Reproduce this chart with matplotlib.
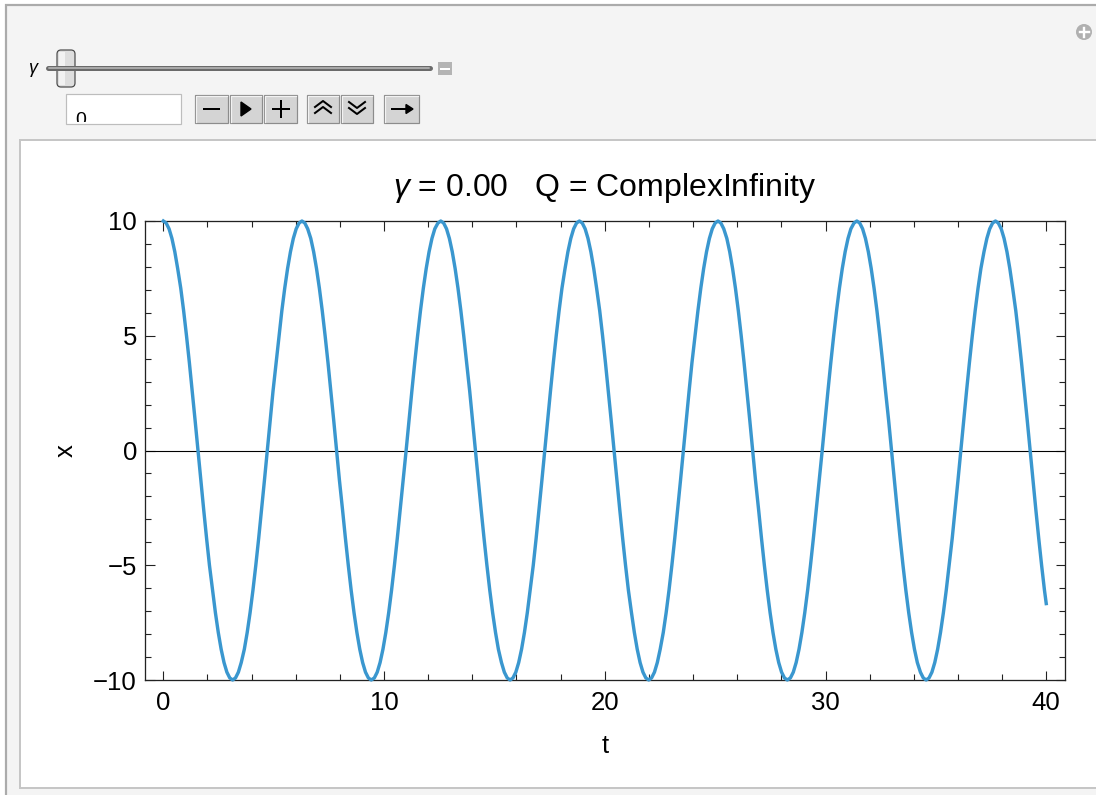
import matplotlib

matplotlib.use("Agg")
import matplotlib.pyplot as plt
from matplotlib.patches import Rectangle, FancyBboxPatch, Circle, Polygon
from matplotlib.ticker import MultipleLocator

plt.rcParams["font.family"] = ["Liberation Sans", "DejaVu Sans"]
plt.rcParams["mathtext.fontset"] = "custom"
plt.rcParams["mathtext.it"] = "Liberation Sans:italic"
plt.rcParams["mathtext.rm"] = "Liberation Sans"

# ---- data (gamma = 0, undamped oscillation) ----
GAMMA = 0.0
Q_TEXT = "ComplexInfinity"
T = [0.00, 0.13, 0.26, 0.39, 0.52, 0.65, 0.79, 0.92, 1.05, 1.18, 1.31, 1.44,
     1.57, 1.70, 1.83, 1.96, 2.09, 2.23, 2.36, 2.49, 2.62, 2.75, 2.88, 3.01,
     3.14, 3.27, 3.40, 3.53, 3.67, 3.80, 3.93, 4.06, 4.19, 4.32, 4.45, 4.58,
     4.71, 4.84, 4.97, 5.11, 5.24, 5.37, 5.50, 5.63, 5.76, 5.89, 6.02, 6.15,
     6.28, 6.41, 6.54, 6.68, 6.81, 6.94, 7.07, 7.20, 7.33, 7.46, 7.59, 7.72,
     7.85, 7.98, 8.12, 8.25, 8.38, 8.51, 8.64, 8.77, 8.90, 9.03, 9.16, 9.29,
     9.42, 9.56, 9.69, 9.82, 9.95, 10.08, 10.21, 10.34, 10.47, 10.60, 10.73, 10.86,
     11.00, 11.13, 11.26, 11.39, 11.52, 11.65, 11.78, 11.91, 12.04, 12.17, 12.30, 12.44,
     12.57, 12.70, 12.83, 12.96, 13.09, 13.22, 13.35, 13.48, 13.61, 13.74, 13.88, 14.01,
     14.14, 14.27, 14.40, 14.53, 14.66, 14.79, 14.92, 15.05, 15.18, 15.32, 15.45, 15.58,
     15.71, 15.84, 15.97, 16.10, 16.23, 16.36, 16.49, 16.62, 16.76, 16.89, 17.02, 17.15,
     17.28, 17.41, 17.54, 17.67, 17.80, 17.93, 18.06, 18.20, 18.33, 18.46, 18.59, 18.72,
     18.85, 18.98, 19.11, 19.24, 19.37, 19.50, 19.63, 19.77, 19.90, 20.03, 20.16, 20.29,
     20.42, 20.55, 20.68, 20.81, 20.94, 21.07, 21.21, 21.34, 21.47, 21.60, 21.73, 21.86,
     21.99, 22.12, 22.25, 22.38, 22.51, 22.65, 22.78, 22.91, 23.04, 23.17, 23.30, 23.43,
     23.56, 23.69, 23.82, 23.95, 24.09, 24.22, 24.35, 24.48, 24.61, 24.74, 24.87, 25.00,
     25.13, 25.26, 25.39, 25.53, 25.66, 25.79, 25.92, 26.05, 26.18, 26.31, 26.44, 26.57,
     26.70, 26.83, 26.97, 27.10, 27.23, 27.36, 27.49, 27.62, 27.75, 27.88, 28.01, 28.14,
     28.27, 28.41, 28.54, 28.67, 28.80, 28.93, 29.06, 29.19, 29.32, 29.45, 29.58, 29.71,
     29.85, 29.98, 30.11, 30.24, 30.37, 30.50, 30.63, 30.76, 30.89, 31.02, 31.15, 31.29,
     31.42, 31.55, 31.68, 31.81, 31.94, 32.07, 32.20, 32.33, 32.46, 32.59, 32.72, 32.86,
     32.99, 33.12, 33.25, 33.38, 33.51, 33.64, 33.77, 33.90, 34.03, 34.16, 34.30, 34.43,
     34.56, 34.69, 34.82, 34.95, 35.08, 35.21, 35.34, 35.47, 35.60, 35.74, 35.87, 36.00,
     36.13, 36.26, 36.39, 36.52, 36.65, 36.78, 36.91, 37.04, 37.18, 37.31, 37.44, 37.57,
     37.70, 37.83, 37.96, 38.09, 38.22, 38.35, 38.48, 38.62, 38.75, 38.88, 39.01, 39.14,
     39.27, 39.40, 39.53, 39.66, 39.79, 39.92, 40.00]
X = [10.0, 9.91, 9.66, 9.24, 8.66, 7.93, 7.07, 6.09, 5.0, 3.83, 2.59, 1.31,
     0.0, -1.31, -2.59, -3.83, -5.0, -6.09, -7.07, -7.93, -8.66, -9.24, -9.66, -9.91,
     -10.0, -9.91, -9.66, -9.24, -8.66, -7.93, -7.07, -6.09, -5.0, -3.83, -2.59, -1.31,
     0.0, 1.31, 2.59, 3.83, 5.0, 6.09, 7.07, 7.93, 8.66, 9.24, 9.66, 9.91,
     10.0, 9.91, 9.66, 9.24, 8.66, 7.93, 7.07, 6.09, 5.0, 3.83, 2.59, 1.31,
     0.0, -1.31, -2.59, -3.83, -5.0, -6.09, -7.07, -7.93, -8.66, -9.24, -9.66, -9.91,
     -10.0, -9.91, -9.66, -9.24, -8.66, -7.93, -7.07, -6.09, -5.0, -3.83, -2.59, -1.31,
     0.0, 1.31, 2.59, 3.83, 5.0, 6.09, 7.07, 7.93, 8.66, 9.24, 9.66, 9.91,
     10.0, 9.91, 9.66, 9.24, 8.66, 7.93, 7.07, 6.09, 5.0, 3.83, 2.59, 1.31,
     0.0, -1.31, -2.59, -3.83, -5.0, -6.09, -7.07, -7.93, -8.66, -9.24, -9.66, -9.91,
     -10.0, -9.91, -9.66, -9.24, -8.66, -7.93, -7.07, -6.09, -5.0, -3.83, -2.59, -1.31,
     0.0, 1.31, 2.59, 3.83, 5.0, 6.09, 7.07, 7.93, 8.66, 9.24, 9.66, 9.91,
     10.0, 9.91, 9.66, 9.24, 8.66, 7.93, 7.07, 6.09, 5.0, 3.83, 2.59, 1.31,
     0.0, -1.31, -2.59, -3.83, -5.0, -6.09, -7.07, -7.93, -8.66, -9.24, -9.66, -9.91,
     -10.0, -9.91, -9.66, -9.24, -8.66, -7.93, -7.07, -6.09, -5.0, -3.83, -2.59, -1.31,
     0.0, 1.31, 2.59, 3.83, 5.0, 6.09, 7.07, 7.93, 8.66, 9.24, 9.66, 9.91,
     10.0, 9.91, 9.66, 9.24, 8.66, 7.93, 7.07, 6.09, 5.0, 3.83, 2.59, 1.31,
     0.0, -1.31, -2.59, -3.83, -5.0, -6.09, -7.07, -7.93, -8.66, -9.24, -9.66, -9.91,
     -10.0, -9.91, -9.66, -9.24, -8.66, -7.93, -7.07, -6.09, -5.0, -3.83, -2.59, -1.31,
     0.0, 1.31, 2.59, 3.83, 5.0, 6.09, 7.07, 7.93, 8.66, 9.24, 9.66, 9.91,
     10.0, 9.91, 9.66, 9.24, 8.66, 7.93, 7.07, 6.09, 5.0, 3.83, 2.59, 1.31,
     0.0, -1.31, -2.59, -3.83, -5.0, -6.09, -7.07, -7.93, -8.66, -9.24, -9.66, -9.91,
     -10.0, -9.91, -9.66, -9.24, -8.66, -7.93, -7.07, -6.09, -5.0, -3.83, -2.59, -1.31,
     0.0, 1.31, 2.59, 3.83, 5.0, 6.09, 7.07, 7.93, 8.66, 9.24, 9.66, 9.91,
     10.0, 9.91, 9.66, 9.24, 8.66, 7.93, 7.07, 6.09, 5.0, 3.83, 2.59, 1.31,
     0.0, -1.31, -2.59, -3.83, -5.0, -6.09, -6.67]
X_TICKS = [0, 10, 20, 30, 40]
Y_TICKS = [-10, -5, 0, 5, 10]

BLUE = "#3a97cf"
W, H = 1096, 795
PX = 0.72  # points per pixel at dpi 100

fig = plt.figure(figsize=(W / 100, H / 100), dpi=100, facecolor="white")

# ---- Manipulate chrome, drawn in pixel coordinates ----
bg = fig.add_axes([0, 0, 1, 1], zorder=0)
bg.set_xlim(0, W)
bg.set_ylim(H, 0)
bg.axis("off")
bg.add_patch(Rectangle((6, 5), W, H, facecolor="#f4f4f4", edgecolor="#ababab", lw=2.2 * PX))
bg.add_patch(Rectangle((20, 140), W, 648, facecolor="white", edgecolor="#c6c6c6", lw=2 * PX))

# slider
bg.text(34, 70, r"$\gamma$", fontsize=13, ha="center", va="center")
bg.plot([48, 430], [68, 68], color="#6a6a6a", lw=5 * PX, solid_capstyle="round")
bg.plot([49, 429], [68, 68], color="#a8a8a8", lw=2 * PX, solid_capstyle="round")
bg.add_patch(FancyBboxPatch((57, 50), 18, 37, boxstyle="round,pad=0,rounding_size=4",
                            facecolor="#dedede", edgecolor="#4a4a4a", lw=1.2 * PX))
bg.add_patch(Rectangle((58.5, 52), 6, 33, facecolor="#f2f2f2", edgecolor="none"))
bg.add_patch(Rectangle((438, 62), 14, 13, facecolor="#b4b4b4", edgecolor="none"))
bg.plot([441, 449], [68.5, 68.5], color="white", lw=2 * PX)

# input field with clipped "0"
bg.add_patch(Rectangle((66, 94), 115, 30, facecolor="white", edgecolor="#bdbdbd", lw=1.2 * PX))
inner = Rectangle((67, 95), 113, 27, facecolor="none", edgecolor="none")
bg.add_patch(inner)
zero = bg.text(81, 125, "0", fontsize=14, ha="center", va="baseline")
zero.set_clip_on(True)
zero.set_clip_path(inner)

# buttons
for x0, x1 in [(195, 228), (230, 262), (264, 297), (307, 339), (341, 373), (384, 419)]:
    bg.add_patch(Rectangle((x0, 95), x1 - x0, 28, facecolor="#d4d4d4", edgecolor="#8c8c8c", lw=1.2 * PX))
    bg.plot([x0 + 1, x0 + 1, x1 - 1], [122, 96, 96], color="#f2f2f2", lw=1.2 * PX)
ink = dict(color="black", lw=2 * PX)
bg.plot([204, 219], [109, 109], **ink)
bg.add_patch(Polygon([[241, 102], [241, 116], [251, 109]], closed=True, color="black"))
bg.plot([273, 289], [109, 109], **ink)
bg.plot([281, 281], [101, 117], **ink)
for dy in (0, 6):
    bg.plot([315, 323, 331], [107 + dy, 101 + dy, 107 + dy], **ink)
    bg.plot([349, 357, 365], [102 + dy, 108 + dy, 102 + dy], **ink)
bg.plot([392, 409], [109, 109], **ink)
bg.add_patch(Polygon([[406, 104.5], [406, 113.5], [413, 109]], closed=True, color="black"))

# plus badge top-right
bg.add_patch(Circle((1084, 32), 8, facecolor="#b0b0b0", edgecolor="none"))
bg.plot([1079.5, 1088.5], [32, 32], color="white", lw=2.4 * PX)
bg.plot([1084, 1084], [27.5, 36.5], color="white", lw=2.4 * PX)

# ---- the plot ----
left, right, top, bottom = 145, 1065, 221, 680
ax = fig.add_axes([left / W, 1 - bottom / H, (right - left) / W, (bottom - top) / H], zorder=1)
ax.set_facecolor("none")
ax.plot(T, X, color=BLUE, lw=3.4 * PX, clip_on=False, zorder=3, solid_joinstyle="round")
ax.axhline(0, color="black", lw=1.1 * PX, zorder=2)
ax.set_xlim(-0.83, 40.85)
ax.set_ylim(-10, 10)
ax.set_xticks(X_TICKS)
ax.set_yticks(Y_TICKS)
ax.set_yticklabels([str(v).replace("-", "\u2212") for v in Y_TICKS])
ax.xaxis.set_minor_locator(MultipleLocator(2))
ax.yaxis.set_minor_locator(MultipleLocator(1))
ax.tick_params(which="both", direction="in", top=True, right=True, width=1.1 * PX,
               color="#222222", labelsize=18.5)
ax.tick_params(which="major", length=9.5 * PX)
ax.tick_params(which="minor", length=6 * PX)
ax.tick_params(axis="x", which="major", pad=11 * PX)
ax.tick_params(axis="y", which="major", pad=8 * PX)
for s in ax.spines.values():
    s.set_linewidth(1.3 * PX)
    s.set_color("#222222")

ax.set_xlabel("t", fontsize=18.5, labelpad=19 * PX)
ax.set_ylabel("x", fontsize=18.5, labelpad=16 * PX)
ax.text(0.5, 1 + (top - 188) / (bottom - top), rf"$\gamma$ = {GAMMA:.2f}   Q = {Q_TEXT}",
        transform=ax.transAxes, ha="center", va="center", fontsize=23)

fig.savefig("out.png", dpi=100, facecolor="white")
